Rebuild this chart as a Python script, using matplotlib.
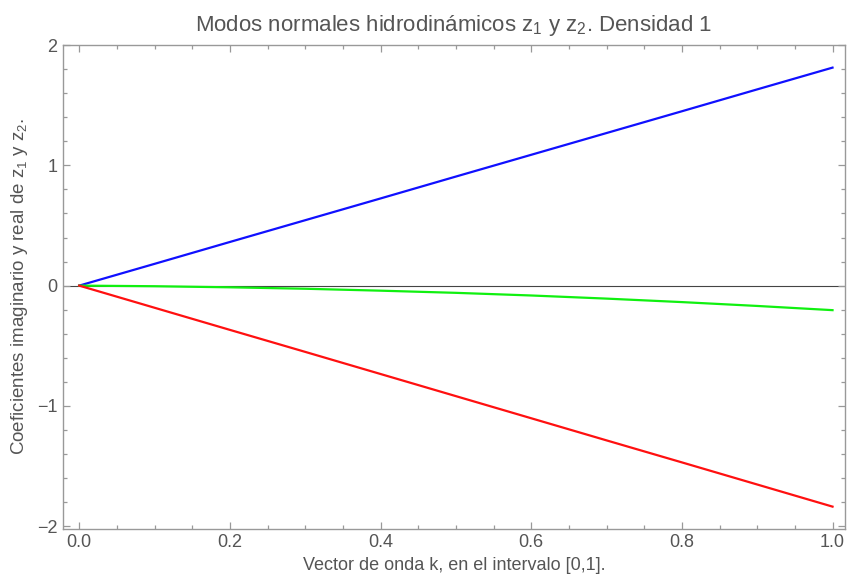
import matplotlib
matplotlib.use("Agg")
import matplotlib.pyplot as plt
from matplotlib.ticker import MultipleLocator

# values
k = [0.0, 0.1, 0.2, 0.3, 0.4, 0.5, 0.6, 0.7, 0.8, 0.9, 1.0]
imag_pos = [0.0, 0.181, 0.363, 0.544, 0.725, 0.907, 1.088, 1.269, 1.450, 1.632, 1.813]
imag_neg = [0.0, -0.184, -0.368, -0.551, -0.735, -0.919, -1.103, -1.287, -1.470, -1.654, -1.838]
real_part = [0.0, -0.005, -0.014, -0.026, -0.042, -0.060, -0.082, -0.108, -0.137, -0.169, -0.204]

FONT = ["Liberation Sans", "DejaVu Sans"]
TEXT_GREY = "#555555"
FRAME_GREY = "#999999"

plt.rcParams["font.family"] = FONT
plt.rcParams["mathtext.default"] = "regular"

fig = plt.figure(figsize=(8.48, 5.86), dpi=100)
ax = fig.add_axes([0.0743, 0.0981, 0.9222, 0.8259])

ax.axhline(0, color="#444444", linewidth=0.8, zorder=1)
ax.plot(k, imag_pos, color="#1010ff", linewidth=1.6, zorder=3)
ax.plot(k, real_part, color="#10f010", linewidth=1.6, zorder=3)
ax.plot(k, imag_neg, color="#ff1010", linewidth=1.6, zorder=3)

ax.set_xlim(-0.0215, 1.0166)
ax.set_ylim(-2.02, 2.005)

ax.xaxis.set_major_locator(MultipleLocator(0.2))
ax.xaxis.set_minor_locator(MultipleLocator(0.05))
ax.yaxis.set_major_locator(MultipleLocator(1))
ax.yaxis.set_minor_locator(MultipleLocator(0.2))
ax.xaxis.set_major_formatter(matplotlib.ticker.FormatStrFormatter("%.1f"))

ax.tick_params(which="both", direction="in", top=True, right=True,
               color=FRAME_GREY, width=0.9)
ax.tick_params(which="major", length=5, labelsize=13, labelcolor=TEXT_GREY, pad=4)
ax.tick_params(which="minor", length=3)
for spine in ax.spines.values():
    spine.set_color(FRAME_GREY)
    spine.set_linewidth(1.0)

ax.set_title(r"Modos normales hidrodinámicos $z_1$ y $z_2$. Densidad 1",
             fontsize=16, color=TEXT_GREY, pad=10)
ax.set_xlabel("Vector de onda k, en el intervalo [0,1].",
              fontsize=13, color=TEXT_GREY, labelpad=4)
ax.set_ylabel(r"Coeficientes imaginario y real de $z_1$ y $z_2$.",
              fontsize=13.5, color=TEXT_GREY, labelpad=5)

fig.savefig("out.png", dpi=100, facecolor="white")
